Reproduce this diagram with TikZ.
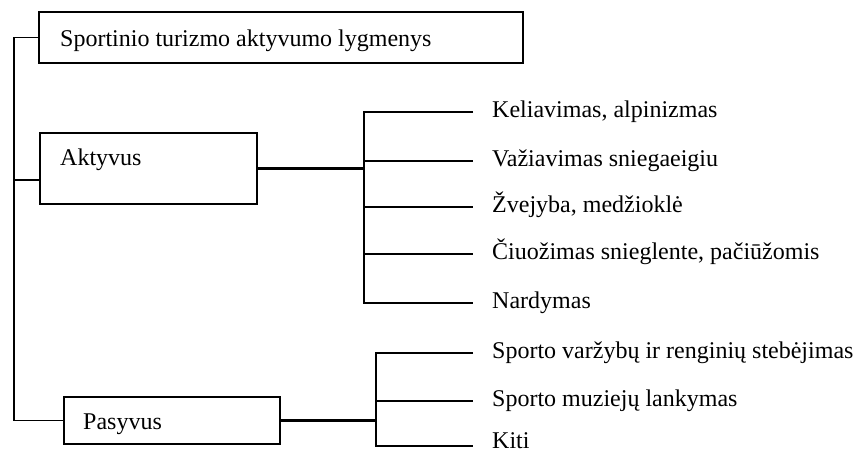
\documentclass[tikz,border=0pt]{standalone}
\usepackage{fontspec}
\setmainfont{Liberation Serif}
\begin{document}
\begin{tikzpicture}[x=1pt,y=-1pt,
  box/.style={draw, line width=1.6pt, inner sep=0pt, anchor=north west},
  lab/.style={anchor=base west, inner sep=0pt, font=\fontsize{24}{28}\selectfont},
  thinline/.style={line width=1.6pt},
  thickline/.style={line width=3pt}]
\useasboundingbox (0,0) rectangle (856,456);
% boxes
\node[box, minimum width=484pt, minimum height=51pt] (top) at (38,11) {};
\node[box, minimum width=217pt, minimum height=71pt] (akt) at (39,132) {};
\node[box, minimum width=216pt, minimum height=47pt] (pas) at (63,396) {};
% box texts
\node[lab] (toptxt) at (60,46) {Sportinio turizmo aktyvumo lygmenys};
\node[lab] (akttxt) at (60,165) {Aktyvus};
\node[lab] (pastxt) at (83,429) {Pasyvus};
% trunk
\coordinate (tr) at (14,0);
\draw[thinline] (top.west) -| (tr |- pas.west) -- (pas.west);
\draw[thinline] (tr |- 0,180) -- (akt.west |- 0,180);
% Aktyvus group
\coordinate (abus) at (364,0);
\draw[thickline] (akt.east) -- (akt.east -| abus);
\foreach \n/\y/\t in {a1/112/{Keliavimas, alpinizmas},
                      a2/161/{Važiavimas sniegaeigiu},
                      a3/207/{Žvejyba, medžioklė},
                      a4/254/{Čiuožimas snieglente, pačiūžomis},
                      a5/303/{Nardymas}}{
  \coordinate (\n) at (473,\y);
  \node[lab] (\n t) at (492,\y+5) {\t};
}
\draw[thinline] (a1) -- (abus |- a1) -- (abus |- a5) -- (a5);
\foreach \n in {a2,a3,a4}{\draw[thinline] (abus |- \n) -- (\n);}
% Pasyvus group
\coordinate (pbus) at (376,0);
\draw[thickline] (pas.east) -- (pas.east -| pbus);
\foreach \n/\y/\b/\t in {p1/353/358/{Sporto varžybų ir renginių stebėjimas},
                      p2/401/406/{Sporto muziejų lankymas},
                      p3/446/448/{Kiti}}{
  \coordinate (\n) at (473,\y);
  \node[lab] (\n t) at (492,\b) {\t};
}
\draw[thinline] (p1) -- (pbus |- p1) -- (pbus |- p3) -- (p3);
\draw[thinline] (pbus |- p2) -- (p2);
\end{tikzpicture}
\end{document}
